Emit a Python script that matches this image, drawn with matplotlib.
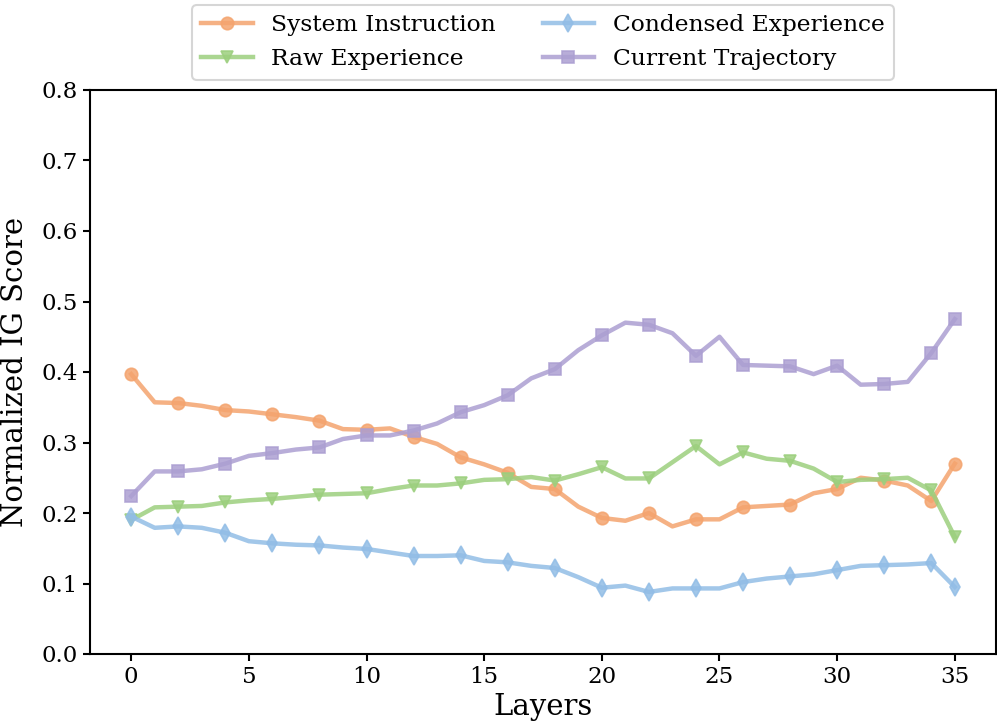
import matplotlib
matplotlib.use("Agg")
import matplotlib.pyplot as plt
import numpy as np

layers = list(range(36))

system_instruction = [0.397, 0.357, 0.356, 0.352, 0.346, 0.344, 0.340, 0.336, 0.331, 0.319,
                      0.318, 0.320, 0.308, 0.298, 0.279, 0.269, 0.257, 0.237, 0.234, 0.209,
                      0.193, 0.189, 0.200, 0.181, 0.191, 0.191, 0.208, 0.210, 0.212, 0.228,
                      0.234, 0.250, 0.246, 0.239, 0.217, 0.270]
raw_experience = [0.190, 0.208, 0.209, 0.210, 0.215, 0.218, 0.220, 0.223, 0.226, 0.227,
                  0.228, 0.234, 0.239, 0.239, 0.242, 0.247, 0.248, 0.251, 0.246, 0.255,
                  0.265, 0.249, 0.249, 0.272, 0.295, 0.269, 0.286, 0.277, 0.274, 0.263,
                  0.244, 0.247, 0.248, 0.250, 0.232, 0.166]
condensed_experience = [0.195, 0.179, 0.181, 0.179, 0.172, 0.160, 0.157, 0.155, 0.154, 0.151,
                        0.149, 0.144, 0.139, 0.139, 0.140, 0.132, 0.130, 0.125, 0.122, 0.109,
                        0.094, 0.097, 0.088, 0.093, 0.093, 0.093, 0.102, 0.107, 0.110, 0.113,
                        0.119, 0.125, 0.126, 0.127, 0.129, 0.095]
current_trajectory = [0.224, 0.259, 0.259, 0.262, 0.270, 0.281, 0.285, 0.290, 0.293, 0.305,
                      0.310, 0.310, 0.317, 0.327, 0.343, 0.353, 0.367, 0.391, 0.404, 0.431,
                      0.452, 0.470, 0.467, 0.455, 0.423, 0.450, 0.410, 0.409, 0.408, 0.397,
                      0.409, 0.382, 0.383, 0.386, 0.427, 0.475]

series_names = ["System Instruction", "Raw Experience", "Condensed Experience", "Current Trajectory"]
series_values = [system_instruction, raw_experience, condensed_experience, current_trajectory]
colors = ["#F4A46E", "#9CCF7E", "#92BDE6", "#AC9FD2"]
markers = ["o", "v", "d", "s"]

plt.rcParams["font.family"] = "DejaVu Serif"

fig = plt.figure(figsize=(9.97, 7.27), dpi=100)
ax = fig.add_axes([90 / 997, 1 - 654 / 727, (996 - 90) / 997, (654 - 90) / 727])

markevery = list(range(0, 36, 2)) + [35]
for name, vals, c, m in zip(series_names, series_values, colors, markers):
    ax.plot(layers, vals, color=c, marker=m, markersize=9, linewidth=3.2,
            alpha=0.85, markevery=markevery, markeredgewidth=1.2,
            markeredgecolor=c, label=name)

ax.set_ylim(0, 0.8)
ax.set_yticks(np.arange(0, 0.81, 0.1))
ax.set_xticks([0, 5, 10, 15, 20, 25, 30, 35])
ax.tick_params(labelsize=16.5, width=1.5, length=5)
for s in ax.spines.values():
    s.set_linewidth(1.5)
ax.set_xlabel("Layers", fontsize=21, labelpad=4)
ax.set_ylabel("Normalized IG Score", fontsize=21, labelpad=9)

leg = ax.legend(loc="lower center", bbox_to_anchor=(0.5, 1.0), ncol=2, fontsize=16.8,
                frameon=True, handlelength=2.2, columnspacing=2.0, borderaxespad=0.45,
                handletextpad=0.8)
leg.get_frame().set_edgecolor("#cccccc")
leg.get_frame().set_linewidth(1.5)

fig.savefig("out.png", dpi=100)
